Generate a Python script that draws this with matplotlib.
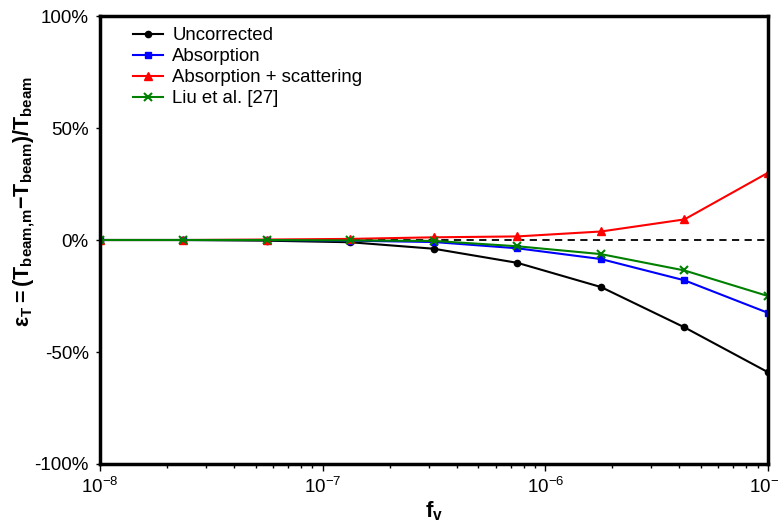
import numpy as np
import matplotlib
matplotlib.use("Agg")
import matplotlib.pyplot as plt
from matplotlib.ticker import FixedLocator, LogLocator, NullFormatter

plt.rcParams['font.family'] = ['Liberation Sans', 'DejaVu Sans']
plt.rcParams['mathtext.fontset'] = 'custom'
plt.rcParams['mathtext.rm'] = 'Liberation Sans:bold'
plt.rcParams['mathtext.it'] = 'Liberation Sans:bold'
plt.rcParams['mathtext.bf'] = 'Liberation Sans:bold'

# soot volume fraction, 9 points evenly spaced in log
fv = [1.0e-8, 2.37e-8, 5.62e-8, 1.33e-7, 3.16e-7, 7.50e-7, 1.78e-6, 4.22e-6, 1.0e-5]

# relative error in beam temperature, percent
uncorrected = [0, 0, -0.3, -1.0, -3.9, -10.2, -21.0, -39.0, -59.0]
absorption = [0, 0, 0, -0.3, -0.9, -3.7, -8.5, -18.0, -32.5]
abs_scatter = [0, 0, 0.2, 0.5, 1.2, 1.6, 3.8, 9.2, 30.0]
liu = [0, 0, 0, -0.2, -0.4, -2.8, -6.3, -13.6, -25.0]

fig = plt.figure(figsize=(7.78, 5.2), dpi=100)
ax = fig.add_axes([0.1285, 0.1077, 0.8585, 0.8615])

ax.plot(fv, uncorrected, color='black', marker='o', ms=4.5, lw=1.5, label='Uncorrected')
ax.plot(fv, absorption, color='blue', marker='s', ms=5, lw=1.5, label='Absorption')
ax.plot(fv, abs_scatter, color='red', marker='^', ms=5.5, lw=1.5, label='Absorption + scattering')
ax.plot(fv, liu, color='green', marker='x', ms=5.5, mew=1.5, lw=1.5, label='Liu et al. [27]')
ax.plot([1e-8, 0.99e-5], [0, 0], color='black', ls=(0, (4, 3)), lw=1.3, zorder=1)

ax.set_xscale('log')
ax.set_xlim(1e-8, 1e-5)
ax.set_ylim(-100, 100)
ax.yaxis.set_major_locator(FixedLocator([-100, -50, 0, 50, 100]))
ax.set_yticklabels(['-100%', '-50%', '0%', '50%', '100%'])
ax.xaxis.set_minor_locator(LogLocator(base=10, subs=np.arange(2, 10)))
ax.xaxis.set_minor_formatter(NullFormatter())
ax.set_xticks([1e-8, 1e-7, 1e-6, 1e-5])
ax.set_xticklabels([r'$\mathregular{10^{-8}}$', r'$\mathregular{10^{-7}}$',
                    r'$\mathregular{10^{-6}}$', r'$\mathregular{10^{-5}}$'])

for s in ax.spines.values():
    s.set_linewidth(2.5)
ax.tick_params(axis='y', length=3, width=1, direction='out', labelsize=13.5, pad=5)
ax.tick_params(axis='x', which='major', length=5, width=1, direction='out', labelsize=13.5, pad=4)
ax.tick_params(axis='x', which='minor', length=3, width=1, direction='out')

ax.set_xlabel(r'$\mathbf{f_v}$', fontsize=16, labelpad=2)
ax.set_ylabel(r'$\mathbf{\varepsilon_T = (T_{beam{,}m}{-}T_{beam})/T_{beam}}$', fontsize=15.5)
ax.yaxis.set_label_coords(-0.094, 0.585)

ax.legend(loc='upper left', frameon=False, fontsize=13.4, handlelength=1.6,
          handletextpad=0.48, labelspacing=0.22, borderaxespad=0.0,
          bbox_to_anchor=(0.039, 0.992))

fig.savefig('out.png', dpi=100)
